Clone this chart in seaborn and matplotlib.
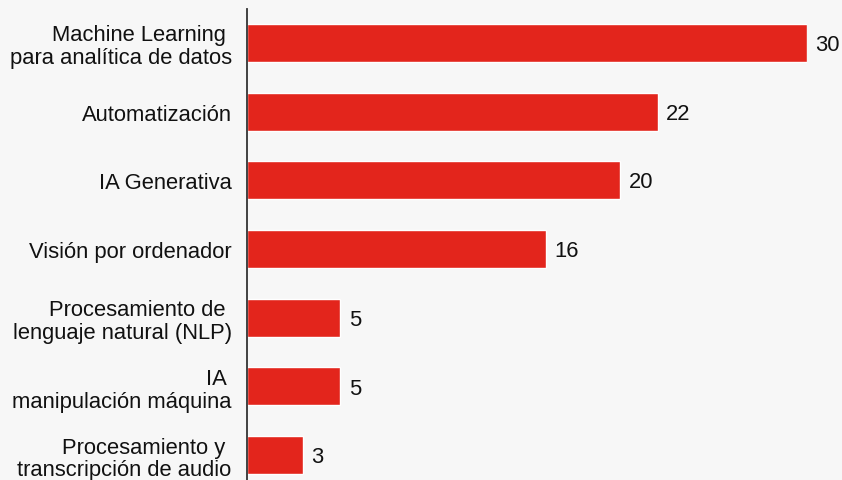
import matplotlib
matplotlib.use("Agg")
import matplotlib.pyplot as plt
import seaborn as sns
import pandas as pd

categories = [
    "Machine Learning \npara analítica de datos",
    "Automatización",
    "IA Generativa",
    "Visión por ordenador",
    "Procesamiento de \nlenguaje natural (NLP)",
    "IA \nmanipulación máquina",
    "Procesamiento y \ntranscripción de audio",
]
values = [30, 22, 20, 16, 5, 5, 3]

BG = "#f7f7f7"
BAR = "#e3251c"

sns.set_theme(style="white")
plt.rcParams["font.family"] = ["Liberation Sans", "DejaVu Sans"]

df = pd.DataFrame({"categoria": categories, "valor": values})

fig = plt.figure(figsize=(8.42, 4.81), dpi=100, facecolor=BG)
ax = fig.add_axes([247 / 842, 0, (807 - 247) / 842, 471 / 481])
ax.set_facecolor(BG)

sns.barplot(data=df, y="categoria", x="valor", orient="h", color=BAR,
            width=0.553, saturation=1, ax=ax)

ax.set_xlim(0, 30)
ax.set_ylim(6.364, -0.495)

for i, v in enumerate(values):
    ax.annotate(f"{v}", xy=(v, i), xytext=(6.2, -1.2), textcoords="offset points",
                va="center", ha="left", fontsize=15.8, color="#111111",
                annotation_clip=False)

ax.set_xlabel("")
ax.set_ylabel("")
ax.set_xticks([])
ax.set_yticks(range(len(categories)))
ax.set_yticklabels(categories, fontsize=15.8, color="#111111", linespacing=1.12)
ax.tick_params(axis="y", length=0, pad=11)

for side in ["top", "right", "bottom"]:
    ax.spines[side].set_visible(False)
ax.spines["left"].set_color("#333333")
ax.spines["left"].set_linewidth(1.3)

fig.savefig("out.png", dpi=100, facecolor=BG)
